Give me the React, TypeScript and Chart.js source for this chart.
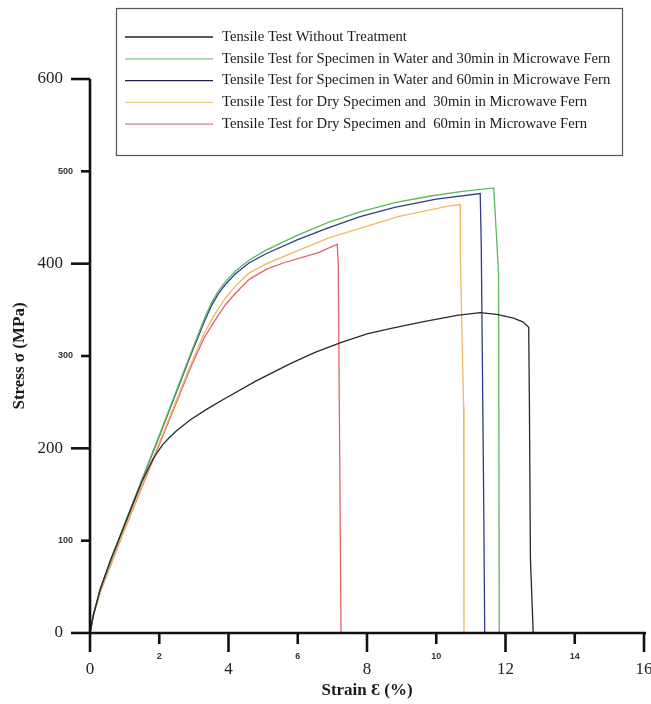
import React, { useEffect, useRef } from "react";
import { Chart, registerables } from "chart.js";

Chart.register(...registerables);

const seriesLabels = [
  "Tensile Test Without Treatment",
  "Tensile Test for Specimen in Water and 30min in Microwave Fern",
  "Tensile Test for Specimen in Water and 60min in Microwave Fern",
  "Tensile Test for Dry Specimen and  30min in Microwave Fern",
  "Tensile Test for Dry Specimen and  60min in Microwave Fern",
];
const lineColors = ["#2a2a2a", "#5cb85c", "#2f3d8c", "#efb866", "#e06464"];
const legendColors = ["#222222", "#86c886", "#1c2150", "#efc887", "#d87884"];

const untreatedStrain = [0, 0.1, 0.3, 0.6, 1, 1.5, 1.8, 1.95, 2.1, 2.3, 2.5, 2.9, 3.4, 3.9, 4.8, 5.8, 6.5, 7.2, 8, 8.7, 9.6, 10.6, 11.27, 11.75, 12.23, 12.5, 12.67, 12.69, 12.72, 12.8];
const untreatedStress = [0, 20, 48, 80, 117, 164, 187, 196, 204, 212, 219, 231, 243, 254, 273, 292, 304, 314, 324, 330, 337, 344, 347, 345, 341, 337, 331, 250, 80, 0];

const water30Strain = [0, 0.1, 0.3, 1, 2, 2.9, 3.3, 3.5, 3.7, 3.9, 4.2, 4.6, 5.1, 6, 6.9, 7.8, 8.8, 9.8, 10.7, 11.66, 11.8, 11.82];
const water30Stress = [0, 20, 48, 118, 214, 302, 340, 357, 370, 380, 392, 404, 415, 431, 445, 456, 466, 473, 478, 482, 390, 0];

const water60Strain = [0, 0.1, 0.3, 1, 2, 2.9, 3.3, 3.5, 3.7, 3.9, 4.2, 4.6, 5.1, 6, 6.9, 7.8, 8.8, 10, 11.27, 11.3, 11.37, 11.4];
const water60Stress = [0, 20, 48, 118, 213, 300, 337, 354, 367, 377, 389, 401, 411, 426, 439, 451, 461, 470, 476, 420, 144, 0];

const dry30Strain = [0, 0.1, 0.3, 1, 2, 2.9, 3.3, 3.6, 3.9, 4.2, 4.6, 5.1, 5.6, 6.9, 8.9, 10.3, 10.69, 10.7, 10.79, 10.8];
const dry30Stress = [0, 19, 45, 113, 206, 290, 325, 345, 362, 376, 390, 400, 408, 428, 451, 462, 464, 400, 245, 0];

const dry60Strain = [0, 0.1, 0.3, 1, 2, 2.9, 3.3, 3.6, 3.9, 4.2, 4.6, 5.1, 5.6, 6.6, 7.14, 7.17, 7.25];
const dry60Stress = [0, 19, 45, 112, 204, 287, 320, 338, 355, 368, 383, 394, 401, 412, 421, 400, 0];

const xMin = 0, xMax = 16, xStep = 2, xMajorEvery = 4;
const yMin = 0, yMax = 600, yStep = 100, yMajorEvery = 200;
const xTitle = "Strain Ɛ (%)";
const yTitle = "Stress σ (MPa)";

const strainSets = [untreatedStrain, water30Strain, water60Strain, dry30Strain, dry60Strain];
const stressSets = [untreatedStress, water30Stress, water60Stress, dry30Stress, dry60Stress];

const SERIF = "'Liberation Serif', 'Times New Roman', serif";
const SANS = "'Liberation Sans', Arial, sans-serif";

const axesPlugin = {
  id: "customAxes",
  afterDraw(chart: any) {
    const ctx = chart.ctx;
    const xs = chart.scales.x;
    const ys = chart.scales.y;
    const a = chart.chartArea;
    ctx.save();
    ctx.strokeStyle = "#111";
    ctx.fillStyle = "#222";
    ctx.lineWidth = 2.6;
    ctx.lineCap = "butt";
    ctx.beginPath();
    ctx.moveTo(a.left, a.top);
    ctx.lineTo(a.left, a.bottom);
    ctx.moveTo(a.left, a.bottom);
    ctx.lineTo(a.right + 2, a.bottom);
    ctx.stroke();
    xs.ticks.forEach((t: any) => {
      const v = t.value;
      const px = xs.getPixelForValue(v);
      const major = v % xMajorEvery === 0;
      ctx.beginPath();
      ctx.moveTo(px, a.bottom);
      ctx.lineTo(px, a.bottom + (major ? 19 : 11));
      ctx.stroke();
      ctx.textAlign = "center";
      ctx.textBaseline = "middle";
      if (major) {
        ctx.font = `17px ${SERIF}`;
        ctx.fillStyle = "#222";
        ctx.fillText(String(v), px, a.bottom + 37);
      } else {
        ctx.font = `bold 9px ${SANS}`;
        ctx.fillStyle = "#333";
        ctx.fillText(String(v), px, a.bottom + 24);
      }
    });
    ys.ticks.forEach((t: any) => {
      const v = t.value;
      const py = ys.getPixelForValue(v);
      const major = v % yMajorEvery === 0;
      ctx.beginPath();
      ctx.moveTo(a.left, py);
      ctx.lineTo(a.left - (major ? 19 : 9), py);
      ctx.stroke();
      ctx.textAlign = "right";
      ctx.textBaseline = "middle";
      if (major) {
        ctx.font = `17px ${SERIF}`;
        ctx.fillStyle = "#222";
        ctx.fillText(String(v), a.left - 27, py);
      } else {
        ctx.font = `bold 9px ${SANS}`;
        ctx.fillStyle = "#333";
        ctx.fillText(String(v), a.left - 17, py);
      }
    });
    ctx.fillStyle = "#1a1a1a";
    ctx.font = `bold 17px ${SERIF}`;
    ctx.textAlign = "center";
    ctx.textBaseline = "middle";
    ctx.fillText(xTitle, (a.left + a.right) / 2, a.bottom + 58);
    ctx.save();
    ctx.translate(20, (a.top + a.bottom) / 2);
    ctx.rotate(-Math.PI / 2);
    ctx.fillText(yTitle, 0, 0);
    ctx.restore();

    const bx = 116, by = 8, bw = 506, bh = 147;
    ctx.fillStyle = "#ffffff";
    ctx.fillRect(bx, by, bw, bh);
    ctx.strokeStyle = "#555";
    ctx.lineWidth = 1.2;
    ctx.strokeRect(bx + 0.5, by + 0.5, bw, bh);
    ctx.font = `14.7px ${SERIF}`;
    ctx.textAlign = "left";
    ctx.textBaseline = "middle";
    chart.data.datasets.forEach((ds: any, i: number) => {
      const ry = by + 29 + i * 21.8;
      ctx.strokeStyle = legendColors[i];
      ctx.lineWidth = 1.3;
      ctx.beginPath();
      ctx.moveTo(125, ry);
      ctx.lineTo(213, ry);
      ctx.stroke();
      ctx.fillStyle = "#1a1a1a";
      ctx.fillText(ds.label, 222, ry);
    });
    ctx.restore();
  },
};

export default function App() {
  const ref = useRef<HTMLCanvasElement | null>(null);
  useEffect(() => {
    if (!ref.current) return;
    const datasets = seriesLabels.map((label, i) => ({
      label,
      data: strainSets[i].map((x, j) => ({ x, y: stressSets[i][j] })),
      borderColor: lineColors[i],
      backgroundColor: lineColors[i],
      borderWidth: 1.3,
      pointRadius: 0,
      fill: false,
      tension: 0,
    }));
    const chart = new Chart(ref.current, {
      type: "line",
      data: { datasets },
      plugins: [axesPlugin],
      options: {
        animation: false,
        responsive: false,
        maintainAspectRatio: false,
        layout: { padding: { left: 0, top: 79, right: 7, bottom: 0 } },
        plugins: { legend: { display: false }, tooltip: { enabled: false } },
        scales: {
          x: {
            type: "linear",
            min: xMin,
            max: xMax,
            ticks: { display: false, stepSize: xStep },
            grid: { display: false },
            border: { display: false },
            afterFit: (s: any) => { s.height = 71; },
          },
          y: {
            type: "linear",
            min: yMin,
            max: yMax,
            ticks: { display: false, stepSize: yStep },
            grid: { display: false },
            border: { display: false },
            afterFit: (s: any) => { s.width = 90; },
          },
        },
      },
    });
    return () => chart.destroy();
  }, []);
  return (
    <div style={{ position: "fixed", left: 0, top: 0, width: 651, height: 704, background: "#fff" }}>
      <canvas ref={ref} width={651} height={704} style={{ width: 651, height: 704 }} />
    </div>
  );
}
